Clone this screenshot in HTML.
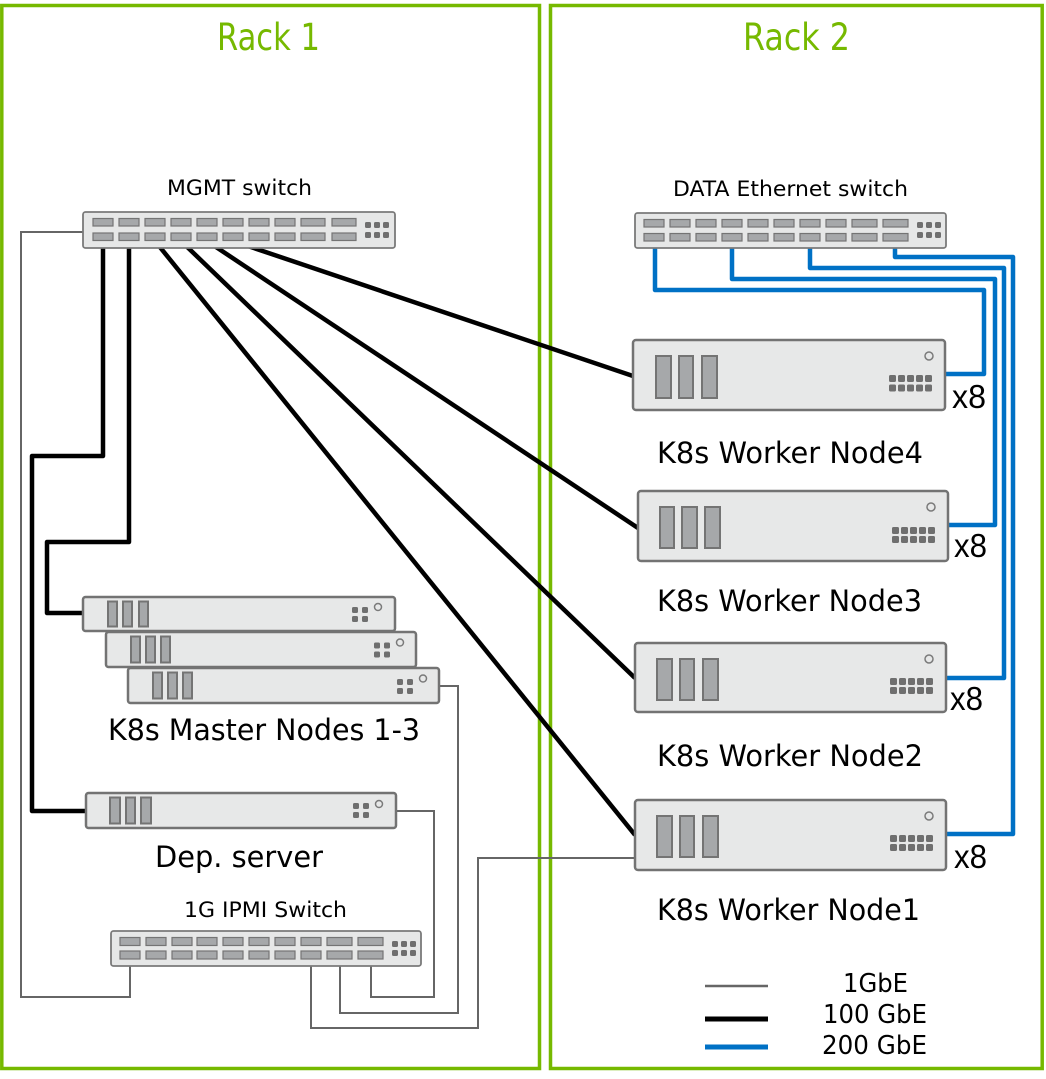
<!DOCTYPE html>
<html>
<head>
<meta charset="utf-8">
<style>
html,body{margin:0;padding:0;background:#fff;}
svg{display:block;}
text{font-family:"DejaVu Sans","Liberation Sans",sans-serif;fill:#000;}
.sw{fill:#e6e7e7;stroke:#7a7a7a;stroke-width:1.8;}
.pt{fill:#a6a8aa;stroke:#747474;stroke-width:1.2;}
.dt{fill:#6f6f6f;}
.sv{fill:#e7e8e8;stroke:#737373;stroke-width:2.5;}
.bar{fill:#a6a8aa;stroke:#747474;stroke-width:2;}
.led{fill:none;stroke:#7a7a7a;stroke-width:1.5;}
.g{fill:none;stroke:#666;stroke-width:2;}
.k{fill:none;stroke:#000;stroke-width:4.5;stroke-linejoin:round;}
.b{fill:none;stroke:#0071c5;stroke-width:4.5;stroke-linejoin:round;}
.x8{font-family:"Liberation Sans",sans-serif;}
</style>
</head>
<body>
<svg width="1046" height="1079" viewBox="0 0 1046 1079" xmlns="http://www.w3.org/2000/svg">
<!-- Racks -->
<rect x="1.8" y="5.5" width="537.7" height="1063" fill="none" stroke="#76b900" stroke-width="3.5"/>
<rect x="550.5" y="5.5" width="491.7" height="1063" fill="none" stroke="#76b900" stroke-width="3.5"/>
<text x="217" y="50" font-size="37" textLength="103" lengthAdjust="spacingAndGlyphs" style="fill:#76b900">Rack 1</text>
<text x="743" y="50" font-size="37" textLength="107" lengthAdjust="spacingAndGlyphs" style="fill:#76b900">Rack 2</text>

<!-- Gray 1GbE lines -->
<polyline class="g" points="83,232 21,232 21,997 130,997 130,959"/>
<polyline class="g" points="396,811 434,811 434,997 371,997 371,959"/>
<polyline class="g" points="439,686 458,686 458,1013 340,1013 340,959"/>
<polyline class="g" points="635,858 478,858 478,1028 311,1028 311,959"/>

<!-- Black 100GbE lines -->
<polyline class="k" points="103,240 103,456 32,456 32,811 86,811"/>
<polyline class="k" points="129,240 129,542 47,542 47,613 83,613"/>
<line class="k" x1="155" y1="241" x2="635" y2="835"/>
<line class="k" x1="181" y1="241" x2="635" y2="678"/>
<line class="k" x1="207" y1="241" x2="638" y2="528"/>
<line class="k" x1="233" y1="241" x2="633" y2="376"/>

<!-- Blue 200GbE lines -->
<polyline class="b" points="655,241 655,290 984,290 984,374 945,374"/>
<polyline class="b" points="732,241 732,279 995,279 995,525 948,525"/>
<polyline class="b" points="810,241 810,268 1004,268 1004,678 946,678"/>
<polyline class="b" points="895,241 895,257 1013,257 1013,834 946,834"/>

<!-- MGMT switch -->
<text x="167" y="195" font-size="21" textLength="145" lengthAdjust="spacingAndGlyphs">MGMT switch</text>
<rect class="sw" x="83" y="212" width="312" height="36" rx="2.5"/>
<g class="pt">
<rect x="93" y="218.5" width="20" height="7.5"/><rect x="119" y="218.5" width="20" height="7.5"/><rect x="145" y="218.5" width="20" height="7.5"/><rect x="171" y="218.5" width="20" height="7.5"/><rect x="197" y="218.5" width="20" height="7.5"/><rect x="223" y="218.5" width="20" height="7.5"/><rect x="249" y="218.5" width="20" height="7.5"/><rect x="275" y="218.5" width="20" height="7.5"/><rect x="301" y="218.5" width="24" height="7.5"/><rect x="332" y="218.5" width="24" height="7.5"/>
<rect x="93" y="233" width="20" height="7.5"/><rect x="119" y="233" width="20" height="7.5"/><rect x="145" y="233" width="20" height="7.5"/><rect x="171" y="233" width="20" height="7.5"/><rect x="197" y="233" width="20" height="7.5"/><rect x="223" y="233" width="20" height="7.5"/><rect x="249" y="233" width="20" height="7.5"/><rect x="275" y="233" width="20" height="7.5"/><rect x="301" y="233" width="24" height="7.5"/><rect x="332" y="233" width="24" height="7.5"/>
</g>
<g class="dt">
<rect x="365" y="222" width="6" height="6" rx="1.5"/><rect x="374" y="222" width="6" height="6" rx="1.5"/><rect x="383" y="222" width="6" height="6" rx="1.5"/>
<rect x="365" y="232" width="6" height="6" rx="1.5"/><rect x="374" y="232" width="6" height="6" rx="1.5"/><rect x="383" y="232" width="6" height="6" rx="1.5"/>
</g>

<!-- DATA switch -->
<text x="673" y="196" font-size="21" textLength="235" lengthAdjust="spacingAndGlyphs">DATA Ethernet switch</text>
<rect class="sw" x="635" y="213" width="311" height="35" rx="2.5"/>
<g class="pt">
<rect x="644" y="219.5" width="20" height="7.5"/><rect x="670" y="219.5" width="20" height="7.5"/><rect x="696" y="219.5" width="20" height="7.5"/><rect x="722" y="219.5" width="20" height="7.5"/><rect x="748" y="219.5" width="20" height="7.5"/><rect x="774" y="219.5" width="20" height="7.5"/><rect x="800" y="219.5" width="20" height="7.5"/><rect x="826" y="219.5" width="20" height="7.5"/><rect x="852" y="219.5" width="25" height="7.5"/><rect x="883" y="219.5" width="25" height="7.5"/>
<rect x="644" y="233.5" width="20" height="7.5"/><rect x="670" y="233.5" width="20" height="7.5"/><rect x="696" y="233.5" width="20" height="7.5"/><rect x="722" y="233.5" width="20" height="7.5"/><rect x="748" y="233.5" width="20" height="7.5"/><rect x="774" y="233.5" width="20" height="7.5"/><rect x="800" y="233.5" width="20" height="7.5"/><rect x="826" y="233.5" width="20" height="7.5"/><rect x="852" y="233.5" width="25" height="7.5"/><rect x="883" y="233.5" width="25" height="7.5"/>
</g>
<g class="dt">
<rect x="917" y="222" width="6" height="6" rx="1.5"/><rect x="926" y="222" width="6" height="6" rx="1.5"/><rect x="935" y="222" width="6" height="6" rx="1.5"/>
<rect x="917" y="232" width="6" height="6" rx="1.5"/><rect x="926" y="232" width="6" height="6" rx="1.5"/><rect x="935" y="232" width="6" height="6" rx="1.5"/>
</g>

<!-- IPMI switch -->
<text x="184" y="917" font-size="21" textLength="163" lengthAdjust="spacingAndGlyphs">1G IPMI Switch</text>
<rect class="sw" x="111" y="931" width="310" height="35" rx="2.5"/>
<g class="pt">
<rect x="120" y="937.5" width="20" height="8"/><rect x="146" y="937.5" width="20" height="8"/><rect x="172" y="937.5" width="20" height="8"/><rect x="197" y="937.5" width="20" height="8"/><rect x="223" y="937.5" width="20" height="8"/><rect x="249" y="937.5" width="20" height="8"/><rect x="275" y="937.5" width="20" height="8"/><rect x="301" y="937.5" width="20" height="8"/><rect x="327" y="937.5" width="25" height="8"/><rect x="358" y="937.5" width="25" height="8"/>
<rect x="120" y="951" width="20" height="8"/><rect x="146" y="951" width="20" height="8"/><rect x="172" y="951" width="20" height="8"/><rect x="197" y="951" width="20" height="8"/><rect x="223" y="951" width="20" height="8"/><rect x="249" y="951" width="20" height="8"/><rect x="275" y="951" width="20" height="8"/><rect x="301" y="951" width="20" height="8"/><rect x="327" y="951" width="25" height="8"/><rect x="358" y="951" width="25" height="8"/>
</g>
<g class="dt">
<rect x="392" y="941" width="6" height="6" rx="1.5"/><rect x="401" y="941" width="6" height="6" rx="1.5"/><rect x="410" y="941" width="6" height="6" rx="1.5"/>
<rect x="392" y="950" width="6" height="6" rx="1.5"/><rect x="401" y="950" width="6" height="6" rx="1.5"/><rect x="410" y="950" width="6" height="6" rx="1.5"/>
</g>

<!-- Master nodes -->
<g transform="translate(83,597)">
<rect class="sv" x="0" y="0" width="312" height="34" rx="2.5"/>
<rect class="bar" x="25" y="4.5" width="9" height="25"/><rect class="bar" x="40" y="4.5" width="9" height="25"/><rect class="bar" x="56" y="4.5" width="9" height="25"/>
<g class="dt"><rect x="269" y="10" width="6" height="6" rx="1.5"/><rect x="279" y="10" width="6" height="6" rx="1.5"/><rect x="269" y="19" width="6" height="6" rx="1.5"/><rect x="279" y="19" width="6" height="6" rx="1.5"/></g>
<circle class="led" cx="295" cy="10" r="3.5"/>
</g>
<g transform="translate(106,632)">
<rect class="sv" x="0" y="0" width="310" height="35" rx="2.5"/>
<rect class="bar" x="25" y="4.5" width="9" height="26"/><rect class="bar" x="40" y="4.5" width="9" height="26"/><rect class="bar" x="55" y="4.5" width="9" height="26"/>
<g class="dt"><rect x="268" y="10.5" width="6" height="6" rx="1.5"/><rect x="278" y="10.5" width="6" height="6" rx="1.5"/><rect x="268" y="19.5" width="6" height="6" rx="1.5"/><rect x="278" y="19.5" width="6" height="6" rx="1.5"/></g>
<circle class="led" cx="294" cy="10.5" r="3.5"/>
</g>
<g transform="translate(128,668)">
<rect class="sv" x="0" y="0" width="311" height="35" rx="2.5"/>
<rect class="bar" x="25" y="4.5" width="9" height="26"/><rect class="bar" x="40" y="4.5" width="9" height="26"/><rect class="bar" x="55" y="4.5" width="9" height="26"/>
<g class="dt"><rect x="269" y="11" width="6" height="6" rx="1.5"/><rect x="279" y="11" width="6" height="6" rx="1.5"/><rect x="269" y="20" width="6" height="6" rx="1.5"/><rect x="279" y="20" width="6" height="6" rx="1.5"/></g>
<circle class="led" cx="295" cy="10.5" r="3.5"/>
</g>
<text x="108" y="740" font-size="29" textLength="312" lengthAdjust="spacingAndGlyphs">K8s Master Nodes 1-3</text>

<!-- Dep server -->
<g transform="translate(86,793)">
<rect class="sv" x="0" y="0" width="310" height="35" rx="2.5"/>
<rect class="bar" x="24" y="4.5" width="10" height="26"/><rect class="bar" x="40" y="4.5" width="9" height="26"/><rect class="bar" x="55" y="4.5" width="10" height="26"/>
<g class="dt"><rect x="267" y="10" width="6" height="6" rx="1.5"/><rect x="277" y="10" width="6" height="6" rx="1.5"/><rect x="267" y="19" width="6" height="6" rx="1.5"/><rect x="277" y="19" width="6" height="6" rx="1.5"/></g>
<circle class="led" cx="293" cy="11" r="3.5"/>
</g>
<text x="155" y="867" font-size="29" textLength="168" lengthAdjust="spacingAndGlyphs">Dep. server</text>

<!-- Worker nodes -->
<g transform="translate(633,340)">
<rect class="sv" x="0" y="0" width="312" height="70" rx="3"/>
<rect class="bar" x="23" y="16" width="15" height="42"/><rect class="bar" x="46" y="16" width="14" height="42"/><rect class="bar" x="69" y="16" width="15" height="42"/>
<g class="dt">
<rect x="256" y="35" width="7" height="7" rx="1.5"/><rect x="265" y="35" width="7" height="7" rx="1.5"/><rect x="274" y="35" width="7" height="7" rx="1.5"/><rect x="283" y="35" width="7" height="7" rx="1.5"/><rect x="292" y="35" width="7" height="7" rx="1.5"/>
<rect x="256" y="44.5" width="7" height="7" rx="1.5"/><rect x="265" y="44.5" width="7" height="7" rx="1.5"/><rect x="274" y="44.5" width="7" height="7" rx="1.5"/><rect x="283" y="44.5" width="7" height="7" rx="1.5"/><rect x="292" y="44.5" width="7" height="7" rx="1.5"/>
</g>
<circle class="led" cx="296" cy="16" r="4"/>
</g>
<g transform="translate(638,491)">
<rect class="sv" x="0" y="0" width="310" height="70" rx="3"/>
<rect class="bar" x="22" y="16" width="14" height="41"/><rect class="bar" x="44" y="16" width="15" height="41"/><rect class="bar" x="67" y="16" width="15" height="41"/>
<g class="dt">
<rect x="254" y="36" width="7" height="7" rx="1.5"/><rect x="263" y="36" width="7" height="7" rx="1.5"/><rect x="272" y="36" width="7" height="7" rx="1.5"/><rect x="281" y="36" width="7" height="7" rx="1.5"/><rect x="290" y="36" width="7" height="7" rx="1.5"/>
<rect x="254" y="45" width="7" height="7" rx="1.5"/><rect x="263" y="45" width="7" height="7" rx="1.5"/><rect x="272" y="45" width="7" height="7" rx="1.5"/><rect x="281" y="45" width="7" height="7" rx="1.5"/><rect x="290" y="45" width="7" height="7" rx="1.5"/>
</g>
<circle class="led" cx="293" cy="16" r="4"/>
</g>
<g transform="translate(635,643)">
<rect class="sv" x="0" y="0" width="311" height="69" rx="3"/>
<rect class="bar" x="22" y="16" width="15" height="41"/><rect class="bar" x="45" y="16" width="14" height="41"/><rect class="bar" x="68" y="16" width="15" height="41"/>
<g class="dt">
<rect x="255" y="35" width="7" height="7" rx="1.5"/><rect x="264" y="35" width="7" height="7" rx="1.5"/><rect x="273" y="35" width="7" height="7" rx="1.5"/><rect x="282" y="35" width="7" height="7" rx="1.5"/><rect x="291" y="35" width="7" height="7" rx="1.5"/>
<rect x="255" y="44" width="7" height="7" rx="1.5"/><rect x="264" y="44" width="7" height="7" rx="1.5"/><rect x="273" y="44" width="7" height="7" rx="1.5"/><rect x="282" y="44" width="7" height="7" rx="1.5"/><rect x="291" y="44" width="7" height="7" rx="1.5"/>
</g>
<circle class="led" cx="294" cy="16" r="4"/>
</g>
<g transform="translate(635,800)">
<rect class="sv" x="0" y="0" width="311" height="70" rx="3"/>
<rect class="bar" x="22" y="16" width="15" height="41"/><rect class="bar" x="45" y="16" width="14" height="41"/><rect class="bar" x="68" y="16" width="15" height="41"/>
<g class="dt">
<rect x="255" y="35" width="7" height="7" rx="1.5"/><rect x="264" y="35" width="7" height="7" rx="1.5"/><rect x="273" y="35" width="7" height="7" rx="1.5"/><rect x="282" y="35" width="7" height="7" rx="1.5"/><rect x="291" y="35" width="7" height="7" rx="1.5"/>
<rect x="255" y="44" width="7" height="7" rx="1.5"/><rect x="264" y="44" width="7" height="7" rx="1.5"/><rect x="273" y="44" width="7" height="7" rx="1.5"/><rect x="282" y="44" width="7" height="7" rx="1.5"/><rect x="291" y="44" width="7" height="7" rx="1.5"/>
</g>
<circle class="led" cx="294" cy="16" r="4"/>
</g>

<!-- Worker labels -->
<text x="657" y="463" font-size="29" textLength="266" lengthAdjust="spacingAndGlyphs">K8s Worker Node4</text>
<text x="657" y="611" font-size="29" textLength="265" lengthAdjust="spacingAndGlyphs">K8s Worker Node3</text>
<text x="657" y="766" font-size="29" textLength="266" lengthAdjust="spacingAndGlyphs">K8s Worker Node2</text>
<text x="657" y="920" font-size="29" textLength="263" lengthAdjust="spacingAndGlyphs">K8s Worker Node1</text>

<!-- x8 labels -->
<text class="x8" x="952" y="408" font-size="33" textLength="34" lengthAdjust="spacingAndGlyphs">x8</text>
<text class="x8" x="954" y="557" font-size="33" textLength="33" lengthAdjust="spacingAndGlyphs">x8</text>
<text class="x8" x="950" y="710" font-size="33" textLength="33" lengthAdjust="spacingAndGlyphs">x8</text>
<text class="x8" x="954" y="868" font-size="33" textLength="33" lengthAdjust="spacingAndGlyphs">x8</text>

<!-- Legend -->
<line x1="705" y1="986" x2="768" y2="986" stroke="#666" stroke-width="2.5"/>
<line x1="705" y1="1019" x2="768" y2="1019" stroke="#000" stroke-width="5"/>
<line x1="705" y1="1047" x2="768" y2="1047" stroke="#0071c5" stroke-width="5"/>
<text x="843" y="992" font-size="26" textLength="65" lengthAdjust="spacingAndGlyphs">1GbE</text>
<text x="823" y="1023" font-size="26" textLength="104" lengthAdjust="spacingAndGlyphs">100 GbE</text>
<text x="822" y="1054" font-size="26" textLength="105" lengthAdjust="spacingAndGlyphs">200 GbE</text>
</svg>
</body>
</html>
